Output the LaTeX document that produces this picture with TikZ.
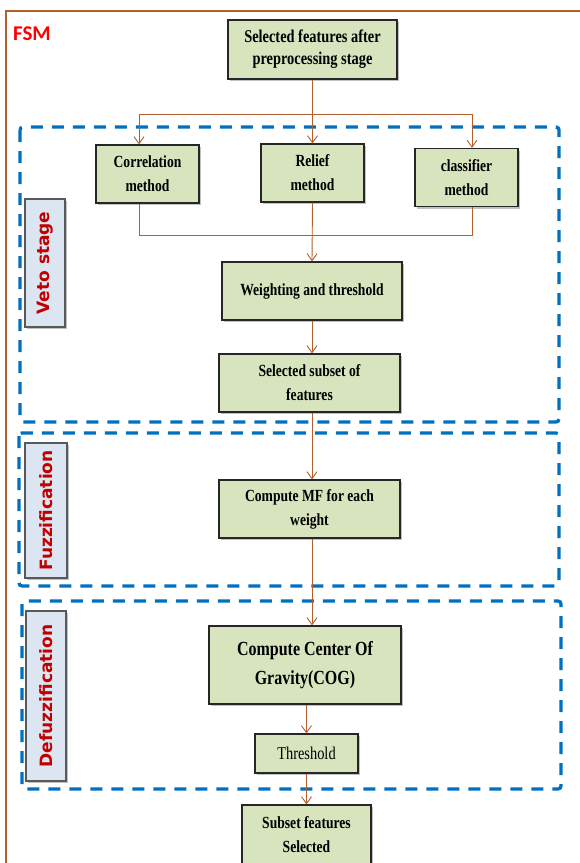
\documentclass[tikz,border=0pt]{standalone}
\usepackage{fontspec}
\usetikzlibrary{arrows.meta,shadows}
\newfontfamily\boxfont[FakeStretch=0.8]{Liberation Serif}
\newfontfamily\labfont{DejaVu Sans}
\newfontfamily\fsmfont{Carlito}
\definecolor{boxgreen}{HTML}{D7E4BD}
\definecolor{labblue}{HTML}{DCE6F2}
\definecolor{labred}{HTML}{C00000}
\definecolor{dashblue}{HTML}{0070C0}
\definecolor{conbrown}{RGB}{178,95,45}
\begin{document}
\begin{tikzpicture}[x=1pt,y=-1pt,
  box/.style={draw=black!85, line width=1.2pt, fill=boxgreen, align=center, inner sep=2pt,
    font=\boxfont\bfseries\fontsize{17}{24}\selectfont,
    drop shadow={shadow xshift=2pt, shadow yshift=-2pt, fill=black!40, opacity=0.6}},
  lab/.style={draw=black!65, line width=1.2pt, fill=labblue, inner sep=0pt, text=labred,
    font=\labfont\bfseries\fontsize{17}{20}\selectfont,
    drop shadow={shadow xshift=2pt, shadow yshift=-2pt, fill=black!40, opacity=0.6}},
  stagebox/.style={draw=dashblue, line width=3.3pt, dash pattern=on 12pt off 9pt, rounded corners=3pt},
  conn/.style={draw=conbrown, line width=0.9pt},
  arr/.style={conn, -{Straight Barb[length=7pt,width=10pt]}}
]
\useasboundingbox (0,0) rectangle (580,863);
\clip (0,0) rectangle (580,863);
\fill[white] (0,0) rectangle (580,863);
% outer frame
\draw[conbrown, line width=2pt] (6,900) -- (6,11) -- (600,11);
\node[font=\fsmfont\bfseries\fontsize{21}{21}\selectfont, text=red, anchor=west, inner sep=0pt] (fsm) at (13,34) {FSM};
% stage frames
\draw[stagebox] (20,127) rectangle (559,422);
\draw[stagebox] (19,433) rectangle (559,586);
\draw[stagebox] (22,601) rectangle (561,789);
% labels
\node[lab, minimum width=40pt, minimum height=128pt] (vetol) at (45,263) {\rotatebox{90}{Veto stage}};
\node[lab, minimum width=42pt, minimum height=135pt] (fuzzl) at (46,510.5) {\rotatebox{90}{Fuzzification}};
\node[lab, minimum width=40pt, minimum height=170pt] (defuzzl) at (46,696) {\rotatebox{90}{Defuzzification}};
% boxes
\node[box, minimum width=169pt, minimum height=59pt, font=\boxfont\bfseries\fontsize{18}{22}\selectfont] (top) at (312.5,49.5) {Selected features after\\preprocessing stage};
\node[box, minimum width=103pt, minimum height=58pt] (corr) at (147.5,174) {Correlation\\method};
\node[box, minimum width=103pt, minimum height=58pt] (relief) at (312.5,173) {Relief\\method};
\node[box, minimum width=103pt, minimum height=58pt] (clf) at (466.5,177.5) {classifier\\method};
\node[box, minimum width=180pt, minimum height=58pt] (weight) at (312,291) {Weighting and threshold};
\node[box, minimum width=181pt, minimum height=58pt] (subset) at (309.5,383) {Selected subset of\\features};
\node[box, minimum width=181pt, minimum height=58pt] (mf) at (309.5,509) {Compute MF for each\\weight};
\node[box, minimum width=192pt, minimum height=78pt, font=\boxfont\bfseries\fontsize{20}{29}\selectfont] (cog) at (305,665) {Compute Center Of\\Gravity(COG)};
\node[box, minimum width=103pt, minimum height=39pt, font=\boxfont\fontsize{18}{20}\selectfont] (thr) at (306.5,753.5) {Threshold};
\node[box, minimum width=129pt, minimum height=60pt] (sel) at (306.5,835) {Subset features\\Selected};
% connectors
\coordinate (jl) at (139,114);
\coordinate (jr) at (472,114);
\coordinate (kl) at (139,235);
\coordinate (kr) at (472,235);
\draw[arr] (top.south) -- (relief.north);
\draw[conn] (jl) -- (jr);
\draw[arr] (jl) -- (jl |- corr.north);
\draw[arr] (jr) -- (jr |- clf.north);
\draw[conn] (jl |- corr.south) -- (kl) -- (kr) -- (jr |- clf.south);
\draw[arr] (relief.south) -- (weight.north);
\draw[arr] (weight.south) -- (weight.south |- subset.north);
\draw[arr] (weight.south |- subset.south) -- (weight.south |- mf.north);
\draw[arr] (weight.south |- mf.south) -- (weight.south |- cog.north);
\draw[arr] (thr.north |- cog.south) -- (thr.north);
\draw[arr] (thr.south) -- (sel.north);
\end{tikzpicture}
\end{document}
